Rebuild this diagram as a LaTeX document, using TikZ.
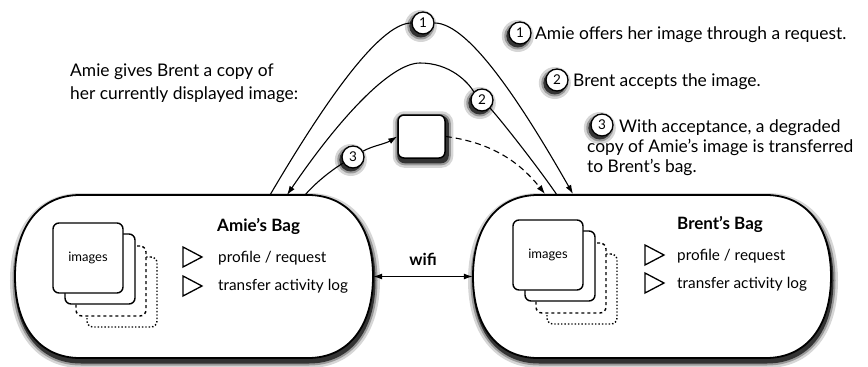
\documentclass[tikz,border=0pt]{standalone}
\usepackage{fontspec}
\setmainfont{Lato}
\usetikzlibrary{arrows.meta}
\pgfdeclarelayer{shade}
\pgfsetlayers{shade,main}

\tikzset{
  % soft shadow, built from grey strokes: widest and lightest first
  shadeA/.style={draw=black!16, line width=12pt, fill=none},
  shadeB/.style={draw=black!40, line width=7pt, fill=none},
  shadeC/.style={draw=black!80, line width=3pt, fill=black!80},
  bagline/.style={draw, line width=1.8pt, fill=white},
  bagframe/.style={minimum width=358pt, minimum height=163pt, inner sep=0pt},
  numdot/.style={circle, draw, line width=1.3pt, fill=white, inner sep=0pt,
      minimum size=22pt, font=\fontsize{13.5}{13.5}\selectfont},
  imgcard/.style={draw, line width=1.4pt, fill=white, rounded corners=6pt,
      minimum size=70pt, inner sep=0pt},
  imgtext/.style={font=\fontsize{13}{13}\selectfont},
  bullet/.style={draw, line width=1.3pt, line join=miter},
  conn/.style={line width=1.1pt},
  tip/.style={-{Latex[length=9pt,width=6pt]}},
  maintext/.style={font=\fontsize{17.4}{20}\selectfont, anchor=base west, inner sep=0pt},
  listtext/.style={font=\fontsize{15.3}{18}\selectfont, anchor=base west, inner sep=0pt},
  titletext/.style={font=\fontsize{17}{20}\selectfont\bfseries, anchor=base west, inner sep=0pt},
}

% rounded "bag" outline whose left edge is at x = #1, drawn with style #2
\newcommand\bagshape[2]{%
  \path[#2] (#1+65,195) -- (#1+293,195)
    .. controls (#1+333,195) and (#1+358,226) .. (#1+358,276.5)
    .. controls (#1+358,327) and (#1+333,358) .. (#1+293,358)
    -- (#1+65,358)
    .. controls (#1+25,358) and (#1,327) .. (#1,276.5)
    .. controls (#1,226) and (#1+25,195) .. (#1+65,195) -- cycle;}

% bag with its shadow below
\newcommand\drawbag[1]{%
  \begin{pgfonlayer}{shade}
    \begin{scope}[shift={(1,4)}]
      \bagshape{#1}{shadeA}\bagshape{#1}{shadeB}\bagshape{#1}{shadeC}
    \end{scope}
  \end{pgfonlayer}
  \bagshape{#1}{bagline}}

% shadow under a round marker
\newcommand\dotshade[1]{%
  \begin{pgfonlayer}{shade}
    \fill[black!16] ([shift={(-2.2,3)}]#1.center) circle (16pt);
    \fill[black!40] ([shift={(-2.2,3)}]#1.center) circle (13.5pt);
    \fill[black!80] ([shift={(-2.2,3)}]#1.center) circle (11.5pt);
  \end{pgfonlayer}}

% stack of image cards, front card centred at (#1,#2)
\newcommand\cardstack[3]{%
  \node[imgcard, dotted] at (#1+34,#2+34) {};
  \node[imgcard, dashed] at (#1+23,#2+23) {};
  \node[imgcard] at (#1+12,#2+11) {};
  \node[imgcard, imgtext] (#3) at (#1,#2) {images};}

\begin{document}
\begin{tikzpicture}[x=1pt, y=-1pt]
  \useasboundingbox (0,0) rectangle (868,367);

  % the two bags
  \node[bagframe] (abag) at (194,276.5) {};
  \node[bagframe] (bbag) at (652,276.5) {};
  \drawbag{15}
  \drawbag{473}

  % contents of Amie's bag
  \cardstack{88}{258}{aimg}
  \node[titletext] (atitle) at (217,231) {Amie's Bag};
  \draw[bullet] (183,247) -- (202,257) -- (183,267) -- cycle;
  \draw[bullet] (183,276) -- (202,286) -- (183,296) -- cycle;
  \node[listtext] (aprof) at (218,262) {profile / request};
  \node[listtext] (alog) at (218,290) {transfer activity log};

  % contents of Brent's bag
  \cardstack{548}{255}{bimg}
  \node[titletext] (btitle) at (677,229) {Brent's Bag};
  \draw[bullet] (645,245) -- (664,255) -- (645,265) -- cycle;
  \draw[bullet] (645,273) -- (664,283) -- (645,293) -- cycle;
  \node[listtext] (bprof) at (677,260) {profile / request};
  \node[listtext] (blog) at (677,288) {transfer activity log};

  % wifi link
  \draw[conn, {Latex[length=9pt,width=6pt]}-{Latex[length=9pt,width=6pt]}]
    (abag.east) -- (bbag.west);
  \node[font=\fontsize{16.5}{20}\selectfont\bfseries, anchor=base] (wifi) at (423,265) {wifi};

  % attachment points on the bag tops
  \coordinate (a1) at (270,195);
  \coordinate (a2) at (287,195);
  \coordinate (a3) at (305,195);
  \coordinate (b3) at (545,194);
  \coordinate (b2) at (557,195);
  \coordinate (b1) at (573,194);

  % step markers and the image copy in transit
  \node[numdot] (n1) at (423,23) {1};
  \node[numdot] (n2) at (482,100) {2};
  \node[numdot] (n3) at (353,157) {3};
  \node[draw, line width=1.5pt, fill=white, rounded corners=6pt,
        minimum width=47pt, minimum height=43pt] (copy) at (421.5,136.5) {};
  \begin{pgfonlayer}{shade}
    \path[shadeA, rounded corners=6pt] ([shift={(1.5,3)}]copy.south west) rectangle ([shift={(1.5,3)}]copy.north east);
    \path[shadeB, rounded corners=6pt] ([shift={(1.5,3)}]copy.south west) rectangle ([shift={(1.5,3)}]copy.north east);
    \path[shadeC, rounded corners=6pt] ([shift={(1.5,3)}]copy.south west) rectangle ([shift={(1.5,3)}]copy.north east);
  \end{pgfonlayer}

  % 1: offer from Amie to Brent
  \draw[conn, tip] (a1) .. controls (320,110) and (378,23) .. (n1.west)
    (n1.east) .. controls (470,23) and (525,110) .. (b1);
  % 2: acceptance from Brent back to Amie
  \draw[conn] (b2) .. controls (540,170) and (505,125) .. (n2.south east);
  \draw[conn, tip] (n2.north west) .. controls (468,82) and (450,63) .. (420,63)
    .. controls (390,63) and (338,120) .. (a2);
  % 3: degraded copy sent to Brent
  \draw[conn] (a3) .. controls (318,180) and (335,168) .. (n3);
  \draw[conn, tip] (n3) .. controls (372,146) and (385,144) .. (copy.west);
  \draw[conn, tip, dashed, dash pattern=on 6pt off 4pt] (copy.east)
    .. controls (495,143) and (522,165) .. (b3);

  % caption on the left
  \node[maintext] (cap1) at (70,76) {Amie gives Brent a copy of};
  \node[maintext] (cap2) at (70,99) {her currently displayed image:};

  % legend
  \node[numdot] (l1) at (520,33) {1};
  \node[maintext] (t1) at (535,39) {Amie offers her image through a request.};
  \node[numdot] (l2) at (557,80) {2};
  \node[maintext] (t2) at (573,86) {Brent accepts the image.};
  \node[numdot] (l3) at (602,125) {3};
  \node[maintext] (t3a) at (619,132) {With acceptance, a degraded};
  \node[maintext] (t3b) at (587,152) {copy of Amie's image is transferred};
  \node[maintext] (t3c) at (587,172) {to Brent's bag.};

  % shadows under the round markers
  \dotshade{n1}\dotshade{n2}\dotshade{n3}
  \dotshade{l1}\dotshade{l2}\dotshade{l3}
\end{tikzpicture}
\end{document}
